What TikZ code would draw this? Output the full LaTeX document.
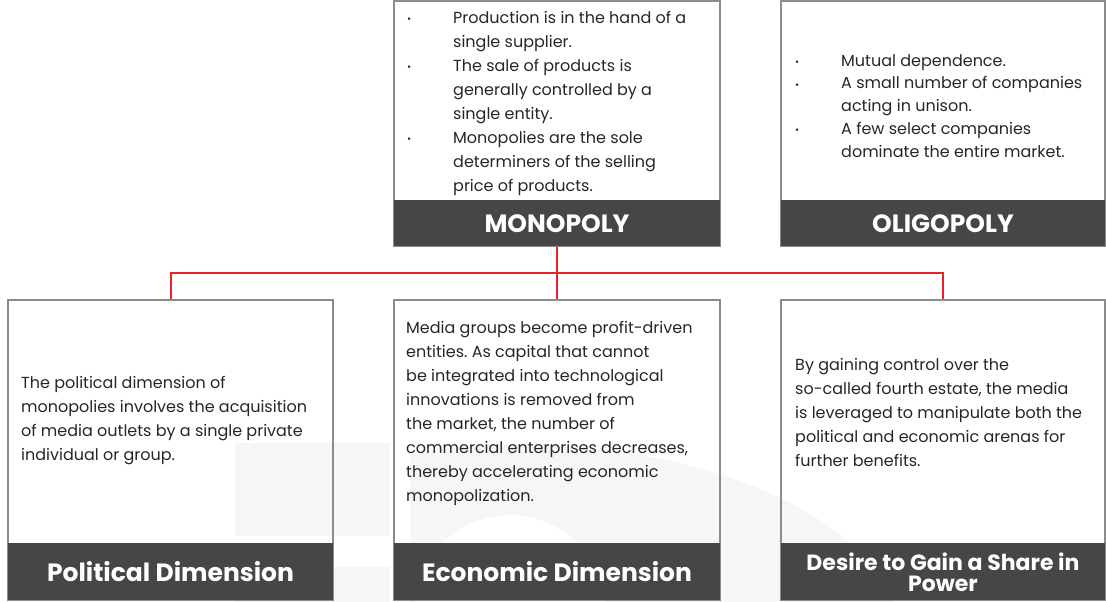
\documentclass[tikz,border=0pt]{standalone}
\usepackage{fontspec}
\setmainfont{Poppins}
\frenchspacing
\usetikzlibrary{positioning}
\definecolor{bandgray}{HTML}{464648}
\definecolor{linered}{HTML}{E8202A}
\definecolor{framegray}{HTML}{8C8C8C}
\definecolor{markgray}{HTML}{F6F6F6}
\definecolor{inkgray}{HTML}{262626}
\tikzset{
  card/.style={draw=framegray, line width=1.2pt, inner sep=0pt, minimum width=326pt},
  band/.style={fill=bandgray, text=white, inner sep=0pt, minimum width=326pt,
    font=\fontsize{25}{26}\selectfont\bfseries, align=center, anchor=south},
  body/.style={inner sep=0pt, anchor=north west, align=left, text=inkgray,
    font=\fontsize{16}{24}\selectfont},
  link/.style={draw=linered, line width=2pt},
}
\newcommand{\itm}{\makebox[46pt][l]{\raisebox{0.5pt}{\fontsize{10}{10}\selectfont\textbullet}}}
\newcommand{\cnt}{\hspace*{46pt}}
\newcommand{\toprule}{\rule{0pt}{12pt}}
\begin{document}
\begin{tikzpicture}[x=1pt,y=-1pt]
\useasboundingbox (0,0) rectangle (1106,602);
%%Watermark
\begin{scope}
\clip (410,440) rectangle (1106,602);
\fill[markgray, even odd rule] (520,640) ellipse [x radius=380, y radius=195] (510,610) circle [radius=95];
\end{scope}
\fill[markgray] (235,443) rectangle (390,536);
\fill[markgray] (235,567) rectangle (390,602);

%%Top row
\node[card, minimum height=245pt] (mono) at (557,123.5) {};
\node[band, minimum height=46pt] (monoband) at (mono.south) {MONOPOLY};
\node[card, minimum width=324pt, minimum height=245pt] (oligo) at (943,123.5) {};
\node[band, minimum width=324pt, minimum height=46pt] (oligoband) at (oligo.south) {OLIGOPOLY};

%%Bottom row
\node[card, minimum width=325pt, minimum height=300pt] (pol) at (170.5,450) {};
\node[band, minimum width=325pt, minimum height=57pt] (polband) at (pol.south) {Political Dimension};
\node[card, minimum height=300pt] (econ) at (557,450) {};
\node[band, minimum height=57pt] (econband) at (econ.south) {Economic Dimension};
\node[card, minimum width=324pt, minimum height=300pt] (desire) at (943,450) {};
\node[band, minimum width=324pt, minimum height=57pt,
  font=\fontsize{22}{21}\selectfont\bfseries] (desireband) at (desire.south) {Desire to Gain a Share in\\Power};

%%Connectors
\coordinate (hub) at (557,273);
\draw[link] (monoband.south) -- (econ.north);
\draw[link] (pol.north) |- (hub) -| (desire.north);

%%Texts (first baseline = y + 12)
\node[body] (monotext) at (407,11) {\toprule\itm Production is in the hand of a\\
  \cnt single supplier.\\
  \itm The sale of products is\\
  \cnt generally controlled by a\\
  \cnt single entity.\\
  \itm Monopolies are the sole\\
  \cnt determiners of the selling\\
  \cnt price of products.};
\node[body, font=\fontsize{16}{22.7}\selectfont] (oligotext) at (795,54) {\toprule\itm Mutual dependence.\\
  \itm A small number of companies\\
  \cnt acting in unison.\\
  \itm A few select companies\\
  \cnt dominate the entire market.};
\node[body] (poltext) at (21,376) {\toprule The political dimension of\\
  monopolies involves the acquisition\\
  of media outlets by a single private\\
  individual or group.};
\node[body] (econtext) at (406,321) {\toprule Media groups become profit-driven\\
  entities. As capital that cannot\\
  be integrated into technological\\
  innovations is removed from\\
  the market, the number of\\
  commercial enterprises decreases,\\
  thereby accelerating economic\\
  monopolization.};
\node[body] (desiretext) at (795,358) {\toprule By gaining control over the\\
  so-called fourth estate, the media\\
  is leveraged to manipulate both the\\
  political and economic arenas for\\
  further benefits.};
\end{tikzpicture}
\end{document}
